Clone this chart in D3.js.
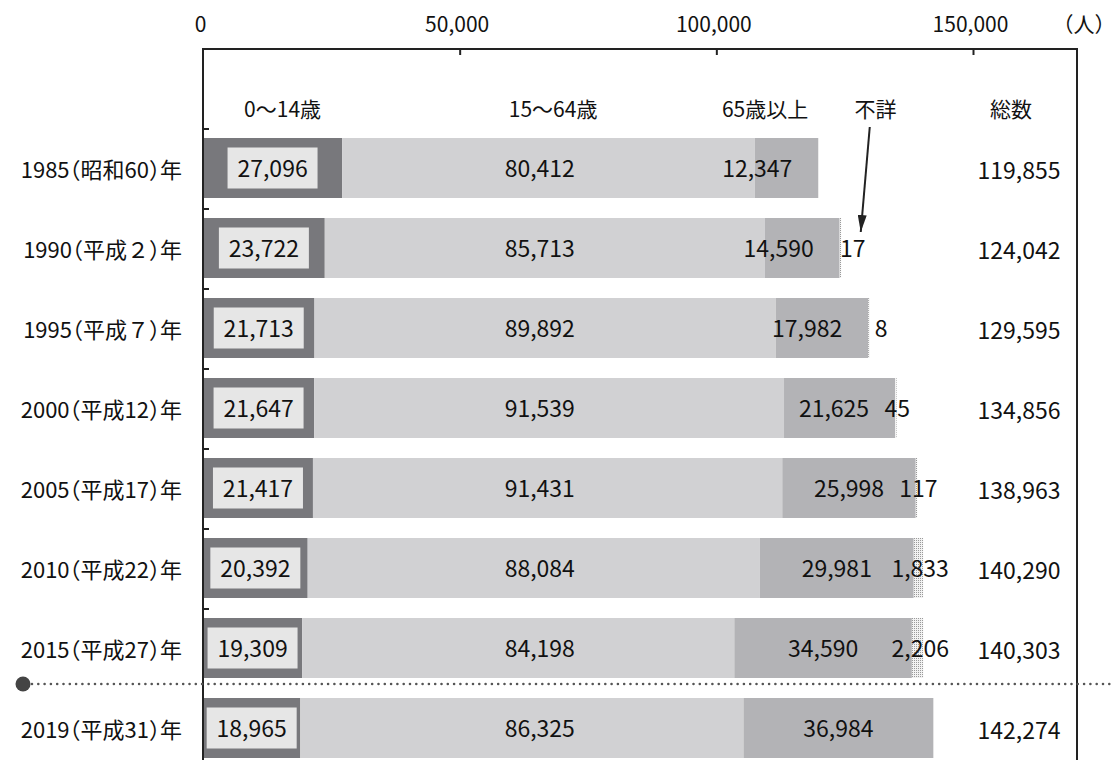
<!DOCTYPE html>
<html lang="ja">
<head>
<meta charset="utf-8">
<script src="https://cdn.jsdelivr.net/npm/d3@7"></script>
<style>
  html, body { margin: 0; padding: 0; background: #fff; }
  svg { display: block; }
  text { font-family: "Noto Sans CJK JP", "Noto Sans", sans-serif; fill: #111; }
  .cat, .unit { font-feature-settings: "halt"; }
</style>
</head>
<body>
<svg id="chart" width="1112" height="760"></svg>
<script>
// Population by age group (persons)
const years = ["1985（昭和60）年", "1990（平成２）年", "1995（平成７）年", "2000（平成12）年",
               "2005（平成17）年", "2010（平成22）年", "2015（平成27）年", "2019（平成31）年"];
const age0to14  = [27096, 23722, 21713, 21647, 21417, 20392, 19309, 18965];
const age15to64 = [80412, 85713, 89892, 91539, 91431, 88084, 84198, 86325];
const age65plus = [12347, 14590, 17982, 21625, 25998, 29981, 34590, 36984];
const ageUnknown = [null, 17, 8, 45, 117, 1833, 2206, null];
const totals    = [119855, 124042, 129595, 134856, 138963, 140290, 140303, 142274];
const axisTicks = [0, 50000, 100000, 150000];
const groupNames = ["0～14歳", "15～64歳", "65歳以上", "不詳", "総数"];
const unitLabel = "（人）";

const svg = d3.select("#chart");
const fmt = d3.format(",");

const rows = years.map((y, i) => ({
  year: y,
  young: age0to14[i],
  working: age15to64[i],
  old: age65plus[i],
  unknown: ageUnknown[i] || 0,
  unknownLabel: ageUnknown[i],
  total: totals[i]
}));

const keys = ["young", "working", "old", "unknown"];
const colors = { young: "#78787c", working: "#d1d1d3", old: "#b3b3b6", unknown: "url(#dots)" };

const x = d3.scaleLinear().domain([0, 150000]).range([203, 973]);
const y = d3.scaleBand().domain(years).range([128, 768]).paddingInner(0.25).paddingOuter(0.125);

const frameTop = 49, frameRight = 1077, frameBottom = 760;

// dotted fill for the "unknown" slice
const defs = svg.append("defs");
const pat = defs.append("pattern").attr("id", "dots").attr("patternUnits", "userSpaceOnUse")
  .attr("width", 2).attr("height", 2);
pat.append("rect").attr("width", 2).attr("height", 2).attr("fill", "#f2f2f2");
pat.append("rect").attr("width", 1).attr("height", 1).attr("fill", "#9a9a9a");

defs.append("marker").attr("id", "arrow").attr("viewBox", "0 0 10 10")
  .attr("preserveAspectRatio", "none")
  .attr("refX", 10).attr("refY", 5).attr("markerWidth", 8.5).attr("markerHeight", 4.5)
  .attr("markerUnits", "strokeWidth").attr("orient", "auto")
  .append("path").attr("d", "M0,0 L10,5 L0,10 Z").attr("fill", "#222");

// stacked bars
const stacked = d3.stack().keys(keys)(rows);
const layer = svg.append("g").selectAll("g").data(stacked).join("g")
  .attr("fill", d => colors[d.key]);
layer.selectAll("rect").data(d => d).join("rect")
  .attr("x", d => x(d[0]))
  .attr("y", d => y(d.data.year))
  .attr("height", y.bandwidth())
  .attr("width", function (d) {
    const key = d3.select(this.parentNode).datum().key;
    const w = x(d[1]) - x(d[0]);
    if (key === "unknown") return d.data.unknownLabel == null ? 0 : Math.max(w, 1.5);
    return w;
  });

// frame: left axis, top and right border
const frame = svg.append("g").attr("stroke", "#222").attr("stroke-width", 2).attr("fill", "none");
frame.append("path").attr("d", `M${x(0)},${frameBottom} V${frameTop} H${frameRight} V${frameBottom}`);

// top axis
const axis = d3.axisTop(x).tickValues(axisTicks).tickFormat(fmt)
  .tickSizeInner(-6).tickSizeOuter(0).tickPadding(17);
const ax = svg.append("g").attr("transform", `translate(0,${frameTop})`).call(axis);
ax.select(".domain").remove();
ax.selectAll(".tick line").attr("stroke", "#222").attr("stroke-width", 2)
  .filter(d => d === 0).remove();
ax.selectAll(".tick text").attr("font-size", 21).attr("fill", "#111")
  .attr("font-family", "'Noto Sans CJK JP', sans-serif").attr("dx", -3);

svg.append("text").attr("class", "unit").attr("x", 1084).attr("y", 32).attr("text-anchor", "middle")
  .attr("font-size", 21).text(unitLabel);

// small ticks on the left axis between categories
svg.append("g").selectAll("line").data(years.slice(0, -1)).join("line")
  .attr("x1", x(0)).attr("x2", x(0) + 6)
  .attr("y1", d => y(d) - 9).attr("y2", d => y(d) - 9)
  .attr("stroke", "#222").attr("stroke-width", 2);

// group headers
const headerX = [x(15500), x(68200), x(109500), x(131000), 1011];
svg.append("g").selectAll("text").data(groupNames).join("text")
  .attr("x", (d, i) => headerX[i]).attr("y", 108)
  .attr("text-anchor", "middle").attr("dominant-baseline", "central")
  .attr("font-size", 21).text(d => d);

// arrow from the "unknown" header to the smallest slice
const arrowEndX = x(totals[1]) + 21, arrowEndY = y(years[1]) + 14;
svg.append("line").attr("x1", arrowEndX + 9).attr("y1", 127)
  .attr("x2", arrowEndX).attr("y2", arrowEndY)
  .attr("stroke", "#222").attr("stroke-width", 2).attr("marker-end", "url(#arrow)");

// category labels
svg.append("g").selectAll("text").data(rows).join("text")
  .attr("class", "cat")
  .attr("x", 182).attr("y", d => y(d.year) + y.bandwidth() / 2)
  .attr("text-anchor", "end").attr("dominant-baseline", "central")
  .attr("font-size", 22).text(d => d.year);

const cy = d => y(d.year) + y.bandwidth() / 2 - 1;

// 0-14 value in a light box centred on the dark slice
const young = svg.append("g").selectAll("g").data(rows).join("g")
  .attr("transform", d => `translate(${(x(0) + x(d.young)) / 2},${y(d.year) + y.bandwidth() / 2})`);
young.append("rect").attr("x", -45).attr("y", -20.5).attr("width", 90).attr("height", 41)
  .attr("fill", "#e6e6e6");
young.append("text").attr("y", -1).attr("text-anchor", "middle").attr("dominant-baseline", "central")
  .attr("font-size", 23).text(d => fmt(d.young));

// 15-64 values
svg.append("g").selectAll("text").data(rows).join("text")
  .attr("x", x(65600)).attr("y", cy)
  .attr("text-anchor", "middle").attr("dominant-baseline", "central")
  .attr("font-size", 23).text(d => fmt(d.working));

// 65+ values
svg.append("g").selectAll("text").data(rows).join("text")
  .attr("x", d => {
    const s = x(d.young + d.working), e = x(d.young + d.working + d.old);
    return Math.min((s + e) / 2, e - 61);
  })
  .attr("y", cy)
  .attr("text-anchor", "middle").attr("dominant-baseline", "central")
  .attr("font-size", 23).text(d => fmt(d.old));

// unknown values
svg.append("g").selectAll("text").data(rows.filter(d => d.unknownLabel != null)).join("text")
  .attr("x", d => x(d.total) + (d.unknownLabel < 20 ? 13 : (d.unknownLabel >= 1000 ? -3 : 2)))
  .attr("y", cy)
  .attr("text-anchor", "middle").attr("dominant-baseline", "central")
  .attr("font-size", 23).text(d => fmt(d.unknownLabel));

// totals
svg.append("g").selectAll("text").data(rows).join("text")
  .attr("x", 1019).attr("y", d => cy(d) + 2)
  .attr("text-anchor", "middle").attr("dominant-baseline", "central")
  .attr("font-size", 23).text(d => fmt(d.total));

// dotted separator before the latest year, with a dot marker at its start
const sepY = y(years[years.length - 1]) - 14;
svg.append("line").attr("x1", 32).attr("x2", 1112).attr("y1", sepY).attr("y2", sepY)
  .attr("stroke", "#555").attr("stroke-width", 2.6)
  .attr("stroke-linecap", "round").attr("stroke-dasharray", "0 6.3");
svg.append("circle").attr("cx", 23).attr("cy", sepY).attr("r", 7.5).attr("fill", "#444");
</script>
</body>
</html>
